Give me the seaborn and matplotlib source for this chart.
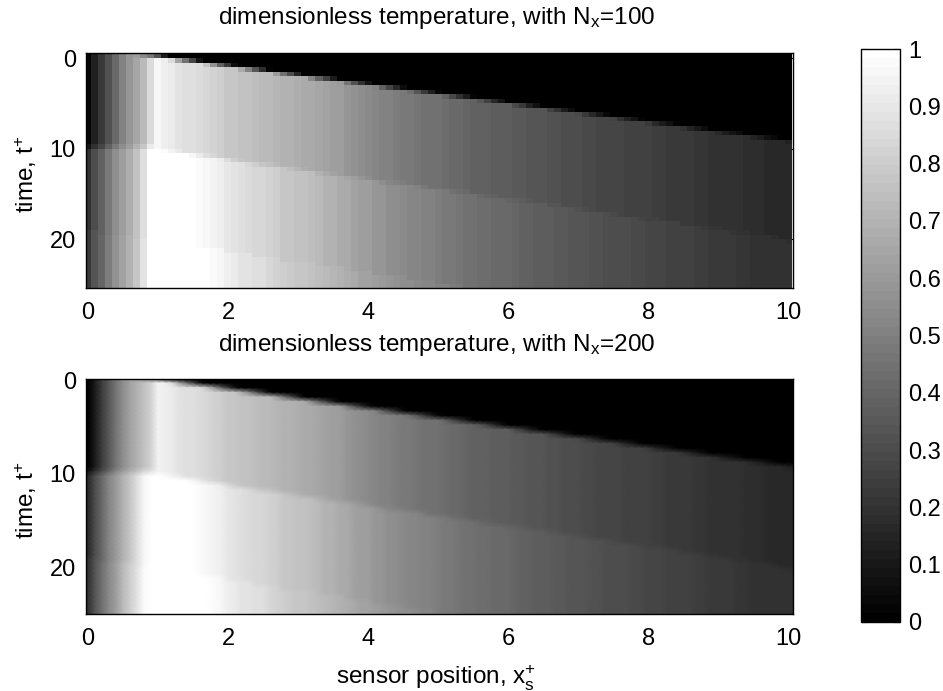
import numpy as np
import pandas as pd
import matplotlib
matplotlib.use("Agg")
import matplotlib.pyplot as plt
import seaborn as sns

sns.set_style("white")
plt.rcParams["font.family"] = ["Liberation Sans", "DejaVu Sans"]
plt.rcParams["mathtext.default"] = "regular"
plt.rcParams["text.color"] = "black"
plt.rcParams["axes.labelcolor"] = "black"

x_labels = [0, 2, 4, 6, 8, 10]
t_labels = [0, 10, 20]
bar_ticks = [0, 0.1, 0.2, 0.3, 0.4, 0.5, 0.6, 0.7, 0.8, 0.9, 1]
bar_labels = ["0", "0.1", "0.2", "0.3", "0.4", "0.5", "0.6", "0.7", "0.8", "0.9", "1"]

# grey levels in percent, one value per 0.1 of x
band1 = [2, 14, 22, 32, 42, 50, 58, 65, 72, 85,
         96, 93, 91, 89, 87, 86, 85, 84, 82, 80,
         78, 77, 76, 75, 74, 73, 72, 71, 70, 69,
         68, 67, 66, 65, 64, 62, 61, 59, 57, 55,
         54, 53, 51, 50, 49, 48, 47, 46, 45, 44,
         44, 43, 42, 41, 40, 39, 39, 38, 37, 36,
         36, 35, 35, 34, 33, 33, 32, 32, 31, 30,
         30, 29, 29, 28, 28, 27, 27, 26, 26, 25,
         25, 24, 24, 23, 23, 22, 22, 21, 21, 20,
         20, 19, 19, 19, 18, 18, 18, 17, 17, 16, 16]
band2 = [19, 30, 38, 47, 55, 62, 68, 75, 86, 100,
         100, 100, 100, 100, 100, 100, 97, 96, 95, 93,
         90, 88, 86, 85, 84, 83, 82, 80, 78, 77,
         76, 75, 74, 72, 70, 69, 67, 66, 64, 62,
         61, 59, 58, 56, 55, 54, 53, 52, 51, 50,
         49, 48, 47, 46, 45, 44, 43, 43, 42, 41,
         41, 40, 39, 38, 37, 37, 36, 35, 35, 34,
         33, 33, 32, 32, 31, 31, 30, 30, 29, 29,
         28, 27, 27, 26, 26, 25, 25, 24, 24, 23,
         23, 22, 22, 21, 21, 20, 20, 20, 20, 19, 19]
band3 = [22, 33, 40, 49, 57, 64, 70, 77, 88, 100,
         100, 100, 100, 100, 100, 100, 100, 99, 98, 96,
         93, 91, 89, 88, 87, 86, 84, 82, 80, 79,
         78, 77, 76, 74, 72, 71, 69, 68, 66, 64,
         63, 61, 60, 58, 57, 56, 55, 54, 53, 52,
         51, 50, 49, 48, 47]

low1 = [1, 12, 24, 35, 46, 55, 63, 69, 75, 82, 95] + band1[11:]
low2 = [16, 30, 42, 52, 60, 70, 78, 87, 96, 100] + band2[10:]
low3 = [20, 33, 44, 54, 62, 72, 80, 88, 97, 100] + band3[10:]

top_mix = [9, 20, 28, 38, 47, 55, 62, 69, 78, 91]
low_mix = [7, 19, 31, 42, 52, 61, 69, 76, 83, 89]

# how far along x the last bright band reaches in the last rows
band3_reach = [15, 20, 24, 28, 33, 37, 41, 46, 50, 54]


def build_rows(b1, b2, b3, mix):
    # one row per half unit of t, from t=-0.25 down
    rows = [
        b1[:7] + [62, 54, 47, 33, 12] + [0] * 89,
        b1[:12] + [85, 64, 45, 27, 9] + [0] * 84,
        b1[:17] + [76, 57, 39, 22, 5] + [0] * 79,
        b1[:22] + [66, 50, 34, 18, 3] + [0] * 74,
        b1[:27] + [60, 44, 30, 15, 1] + [0] * 69,
        b1[:32] + [53, 39, 26, 12] + [0] * 65,
        b1[:36] + [60, 46, 32, 20, 9] + [0] * 60,
        b1[:41] + [50, 38, 27, 17, 6] + [0] * 55,
        b1[:46] + [43, 33, 23, 14, 4] + [0] * 50,
        b1[:51] + [38, 29, 20, 11, 3] + [0] * 45,
        b1[:56] + [34, 25, 17, 9, 1] + [0] * 40,
        b1[:61] + [29, 22, 14, 7] + [0] * 36,
        b1[:66] + [26, 19, 12, 6] + [0] * 31,
        b1[:70] + [29, 22, 17, 10, 4] + [0] * 26,
        b1[:75] + [26, 20, 14, 9, 3] + [0] * 21,
        b1[:80] + [23, 17, 12, 7, 2] + [0] * 16,
        b1[:85] + [20, 15, 10, 6, 1] + [0] * 11,
        b1[:90] + [17, 12, 9, 5, 1] + [0] * 6,
        b1[:95] + [15, 11, 7, 4, 0] + [0] * 1,
        b1[:100] + [13],
        mix + b1[10:],
        b2[:10] + [99, 97, 94, 91] + b1[14:],
        b2[:14] + [99, 96, 91, 87, 83] + b1[19:],
        b2[:19] + [91, 85, 81, 78] + b1[23:],
        b2[:23] + [84, 81, 78, 75, 72] + b1[28:],
        b2[:28] + [77, 74, 71, 68] + b1[32:],
        b2[:32] + [74, 70, 67, 64, 61] + b1[37:],
        b2[:37] + [65, 61, 58, 55] + b1[41:],
        b2[:41] + [59, 56, 53, 51, 49] + b1[46:],
        b2[:46] + [52, 50, 48, 45] + b1[50:],
        b2[:51] + [47, 45, 43, 41] + b1[55:],
        b2[:55] + [44, 42, 40, 38, 36] + b1[60:],
        b2[:60] + [40, 38, 36, 35] + b1[64:],
        b2[:64] + [37, 36, 34, 33, 31] + b1[69:],
        b2[:69] + [33, 32, 31, 29] + b1[73:],
        b2[:73] + [32, 30, 29, 28, 26] + b1[78:],
        b2[:78] + [29, 27, 26, 25] + b1[82:],
        b2[:82] + [27, 25, 25, 23, 22] + b1[87:],
        b2[:87] + [24, 23, 21, 21] + b1[91:],
        b3[:2] + b2[2:91] + [22, 21, 20, 19, 18] + b1[96:],
        b3[:7] + b2[7:96] + [20, 19, 18, 17, 16],
        b3[:11] + b2[11:100] + [18],
    ]
    for reach in band3_reach:
        rows.append(b3[:reach] + b2[reach:])
    return rows


top_rows = build_rows(band1, band2, band3, top_mix)
low_rows = build_rows(low1, low2, low3, low_mix)

W, H = 943, 691
fig = plt.figure(figsize=(W / 100, H / 100), dpi=100)


def box(x0, y0, x1, y1):
    return [x0 / W, 1 - y1 / H, (x1 - x0) / W, (y1 - y0) / H]


ax_top = fig.add_axes(box(85.5, 52.5, 793, 288))
ax_low = fig.add_axes(box(85.5, 379, 793, 614))
cax = fig.add_axes(box(861, 49, 900, 622))

grey = plt.get_cmap("gray", 64)

# top one keeps flat cells: column c covers x=(c-0.5)*0.1 to (c+0.5)*0.1
top_df = pd.DataFrame(top_rows) / 100
sns.heatmap(top_df, ax=ax_top, cmap=grey, vmin=0, vmax=1, cbar_ax=cax,
            cbar_kws={"ticks": bar_ticks}, xticklabels=False, yticklabels=False)
ax_top.set_xlim((-0.035 + 0.05) / 0.1, (10.07 + 0.05) / 0.1)
ax_top.set_ylim(2 * 25.4 + 1, -0.25)
ax_top.set_xticks([(v + 0.05) / 0.1 for v in x_labels])
ax_top.set_yticks([2 * v + 1 for v in t_labels])

# bottom one is smooth, one extra column each side so the mesh reaches the frame
low_df = pd.DataFrame(np.pad(np.array(low_rows), ((0, 0), (1, 1)), mode="edge")) / 100
sns.heatmap(low_df, ax=ax_low, cmap=grey, vmin=0, vmax=1, cbar=False,
            xticklabels=False, yticklabels=False, shading="gouraud")
ax_low.set_xlim((-0.035 + 0.1) / 0.1, (10.07 + 0.1) / 0.1)
ax_low.set_ylim(2 * 25.05 + 0.5, 2 * -0.2 + 0.5)
ax_low.set_xticks([(v + 0.1) / 0.1 for v in x_labels])
ax_low.set_yticks([2 * v + 0.5 for v in t_labels])

for ax, nx, gap in [(ax_top, 100, 20.5), (ax_low, 200, 20)]:
    ax.set_xticklabels(x_labels)
    ax.set_yticklabels(t_labels)
    ax.tick_params(direction="in", length=4, width=0.8, color="black", labelsize=17,
                   top=True, right=True, bottom=True, left=True, pad=7, labelcolor="black")
    ax.tick_params(axis="x", pad=10, labelrotation=0)
    ax.tick_params(axis="y", labelrotation=0)
    ax.set_ylabel("time, $t^{+}$", fontsize=17.5)
    ax.yaxis.set_label_coords(-0.066, 0.484)
    ax.set_title(f"dimensionless temperature, with $N_x$={nx}", fontsize=17.5, pad=gap, x=0.496)
    for side in ax.spines.values():
        side.set_visible(True)
        side.set_color("black")
        side.set_linewidth(1.0)

ax_low.set_xlabel("sensor position, $x_s^{+}$", fontsize=17.5)
ax_low.xaxis.set_label_coords(0.496, -0.21)

cbar = ax_top.collections[0].colorbar
cbar.set_ticklabels(bar_labels)
cbar.outline.set_visible(True)
cbar.outline.set_edgecolor("black")
cbar.outline.set_linewidth(1.0)
cax.tick_params(direction="in", length=4, width=0.8, color="black", left=True, right=True,
                labelsize=17, pad=6, labelcolor="black")

fig.savefig("out.png", dpi=100)
